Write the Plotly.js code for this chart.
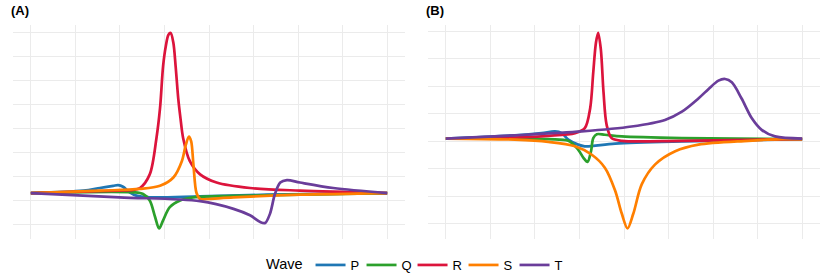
<!DOCTYPE html>
<html><head><meta charset="utf-8">
<script src="https://cdn.plot.ly/plotly-3.0.1.min.js"></script>
<style>html,body{margin:0;padding:0;background:#fff}#chart{width:830px;height:280px}</style>
</head><body><div id="chart"></div>
<script>
// Wave names and colours
const waves = ["P", "Q", "R", "S", "T"];
const waveColors = ["#1f77b4", "#2ca02c", "#dc143c", "#ff7f00", "#6a3d9a"];

// Panel A values (time, amplitude)
const aP_x = [0, 1.18, 1.55, 1.85, 1.96, 2.07, 2.22, 2.37, 2.67, 3.80, 5.30, 8.0];
const aP_y = [0.30, 0.40, 0.51, 0.60, 0.63, 0.56, 0.33, 0.19, 0.12, 0.16, 0.23, 0.30];
const aQ_x = [0, 2.30, 2.52, 2.67, 2.79, 2.88, 2.97, 3.12, 3.35, 3.65, 4.55, 6.04, 8.0];
const aQ_y = [0.30, 0.33, 0.26, -0.01, -0.70, -1.18, -0.84, -0.29, -0.01, 0.12, 0.18, 0.23, 0.30];
const aR_x = [0, 1.18, 1.99, 2.30, 2.45, 2.67, 2.82, 2.90, 2.97, 3.03, 3.09, 3.14, 3.20, 3.25, 3.31, 3.36, 3.42, 3.57, 3.80, 4.17, 4.92, 6.04, 8.0];
const aR_y = [0.30, 0.36, 0.40, 0.43, 0.51, 1.08, 2.59, 3.83, 5.61, 6.43, 6.91, 6.98, 6.57, 5.61, 4.24, 3.42, 2.59, 1.63, 1.08, 0.74, 0.51, 0.40, 0.30];
const aS_x = [0, 1.55, 2.45, 2.90, 3.20, 3.39, 3.48, 3.55, 3.60, 3.65, 3.72, 3.80, 3.95, 4.55, 6.04, 8.0];
const aS_y = [0.30, 0.40, 0.47, 0.60, 0.95, 1.63, 2.32, 2.66, 2.46, 1.50, 0.30, 0.05, 0.05, 0.12, 0.23, 0.30];
const aT_x = [0, 1.99, 3.80, 4.55, 4.92, 5.15, 5.26, 5.37, 5.48, 5.60, 5.75, 6.04, 6.79, 8.0];
const aT_y = [0.30, 0.12, -0.04, -0.36, -0.63, -0.91, -0.95, -0.56, 0.26, 0.74, 0.84, 0.74, 0.51, 0.30];

// Panel B values (time, amplitude)
const bP_x = [0, 1.55, 2.15, 2.45, 2.60, 2.75, 2.97, 3.12, 3.80, 5.30, 8.0];
const bP_y = [0.10, 0.22, 0.30, 0.36, 0.30, 0.06, -0.12, -0.18, -0.08, 0.00, 0.08];
const bQ_x = [0, 2.30, 2.75, 2.97, 3.09, 3.18, 3.26, 3.31, 3.39, 3.57, 3.95, 5.30, 8.0];
const bQ_y = [0.10, 0.08, 0.02, -0.30, -0.60, -0.75, -0.36, 0.12, 0.26, 0.24, 0.18, 0.12, 0.08];
const bR_x = [0, 1.55, 2.30, 2.90, 3.12, 3.24, 3.31, 3.37, 3.42, 3.48, 3.54, 3.61, 3.72, 3.95, 5.30, 8.0];
const bR_y = [0.10, 0.14, 0.20, 0.30, 0.48, 1.20, 2.51, 3.59, 3.95, 3.35, 1.79, 0.60, 0.12, 0.02, 0.02, 0.08];
const bS_x = [0, 1.55, 2.30, 2.90, 3.27, 3.57, 3.80, 3.95, 4.08, 4.21, 4.40, 4.70, 5.15, 5.67, 6.79, 7.54, 8.0];
const bS_y = [0.10, 0.06, -0.02, -0.18, -0.48, -0.96, -1.79, -2.63, -3.17, -2.63, -1.56, -0.84, -0.36, -0.12, 0.02, 0.08, 0.08];
const bT_x = [0, 1.55, 3.05, 4.17, 4.92, 5.30, 5.67, 5.90, 6.12, 6.27, 6.42, 6.64, 6.87, 7.09, 7.39, 8.0];
const bT_y = [0.10, 0.22, 0.36, 0.54, 0.78, 1.08, 1.56, 1.91, 2.21, 2.27, 2.15, 1.56, 0.84, 0.42, 0.18, 0.10];

const panelA = [[aP_x, aP_y], [aQ_x, aQ_y], [aR_x, aR_y], [aS_x, aS_y], [aT_x, aT_y]];
const panelB = [[bP_x, bP_y], [bQ_x, bQ_y], [bR_x, bR_y], [bS_x, bS_y], [bT_x, bT_y]];

const traces = [];
panelA.forEach((d, i) => traces.push({
  x: d[0], y: d[1], type: "scatter", mode: "lines", name: waves[i], legendgroup: waves[i],
  line: {color: waveColors[i], width: 2.7, shape: "spline", smoothing: 0.9},
  xaxis: "x", yaxis: "y", showlegend: true
}));
panelB.forEach((d, i) => traces.push({
  x: d[0], y: d[1], type: "scatter", mode: "lines", name: waves[i], legendgroup: waves[i],
  line: {color: waveColors[i], width: 2.7, shape: "spline", smoothing: 0.9},
  xaxis: "x2", yaxis: "y2", showlegend: false
}));

const ax = {showticklabels: false, ticks: "", zeroline: false, showline: false,
  showgrid: true, gridcolor: "#ebebeb", gridwidth: 1};
const yTop = 1 - 25/280, yBot = 1 - 242/280;

const layout = {
  width: 830, height: 280,
  margin: {l: 0, r: 0, t: 0, b: 0},
  paper_bgcolor: "#fff", plot_bgcolor: "#fff",
  font: {family: "Liberation Sans, Arial, sans-serif", color: "#000"},
  xaxis: Object.assign({}, ax, {domain: [13/830, 405/830], range: [-0.4, 8.4], dtick: 1, tick0: 0}),
  yaxis: Object.assign({}, ax, {domain: [yBot, yTop], range: [-1.60, 7.33], dtick: 1, tick0: 0}),
  xaxis2: Object.assign({}, ax, {domain: [428/830, 820/830], range: [-0.4, 8.4], dtick: 1, tick0: 0, anchor: "y2"}),
  yaxis2: Object.assign({}, ax, {domain: [yBot, yTop], range: [-3.54, 4.25], dtick: 1, tick0: 0, anchor: "x2"}),
  showlegend: true,
  legend: {orientation: "h", x: 0.5, xanchor: "center", y: 11/280, yanchor: "middle",
    title: {text: "Wave", side: "left", font: {size: 14.5}},
    font: {size: 13}, itemwidth: 30, entrywidth: 6, entrywidthmode: "pixels",
    tracegroupgap: 0, bgcolor: "rgba(0,0,0,0)"},
  annotations: [
    {text: "<b>(A)</b>", xref: "paper", yref: "paper", x: 9/830, y: 1 - 11/280, xanchor: "left", yanchor: "middle", showarrow: false, font: {size: 13}},
    {text: "<b>(B)</b>", xref: "paper", yref: "paper", x: 424/830, y: 1 - 11/280, xanchor: "left", yanchor: "middle", showarrow: false, font: {size: 13}}
  ]
};

Plotly.newPlot("chart", traces, layout, {staticPlot: true, displayModeBar: false});
</script></body></html>
